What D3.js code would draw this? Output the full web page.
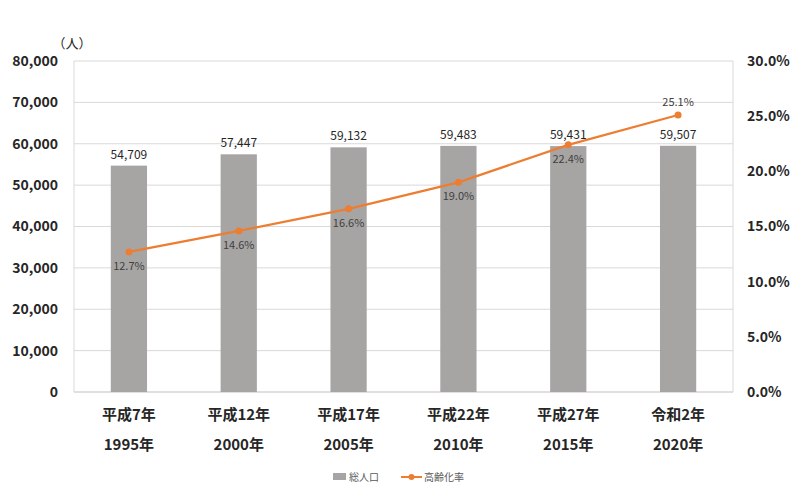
<!DOCTYPE html>
<html>
<head>
<meta charset="utf-8">
<script src="https://cdn.jsdelivr.net/npm/d3@7"></script>
<style>
  body { margin: 0; background: #fff; }
  text { font-family: "Noto Sans CJK JP", "Noto Sans", sans-serif; }
</style>
</head>
<body>
<script>
var eras = ["平成7年", "平成12年", "平成17年", "平成22年", "平成27年", "令和2年"]
var years = ["1995年", "2000年", "2005年", "2010年", "2015年", "2020年"]
var population = [54709, 57447, 59132, 59483, 59431, 59507]
var agingRate = [12.7, 14.6, 16.6, 19.0, 22.4, 25.1]
var leftTicks = [0, 10000, 20000, 30000, 40000, 50000, 60000, 70000, 80000]
var rightTicks = [0, 5, 10, 15, 20, 25, 30]

var W = 792, H = 482
var m = { left: 74, right: 59, top: 61, bottom: 90 }

var svg = d3.select("body").append("svg")
    .attr("width", W)
    .attr("height", H)

var x = d3.scaleBand()
    .domain(d3.range(eras.length))
    .range([m.left, W - m.right])
    .paddingInner(0.67)
    .paddingOuter(0.335)

var y = d3.scaleLinear().domain([0, 80000]).range([H - m.bottom, m.top])
var y2 = d3.scaleLinear().domain([0, 30]).range([H - m.bottom, m.top])

// grid
svg.append("g").selectAll("line")
    .data(leftTicks)
    .enter().append("line")
    .attr("x1", m.left).attr("x2", W - m.right)
    .attr("y1", function(d) { return y(d) }).attr("y2", function(d) { return y(d) })
    .style("stroke", function(d) { return d === 0 ? "#bfbfbf" : "#d9d9d9" })
    .style("stroke-width", 1)

// frame sides
svg.append("line").attr("x1", m.left).attr("x2", m.left)
    .attr("y1", m.top).attr("y2", H - m.bottom).style("stroke", "#d9d9d9")
svg.append("line").attr("x1", W - m.right).attr("x2", W - m.right)
    .attr("y1", m.top).attr("y2", H - m.bottom).style("stroke", "#d9d9d9")

// left axis
var fmt = d3.format(",")
svg.append("g").selectAll("text")
    .data(leftTicks)
    .enter().append("text")
    .attr("x", m.left - 16)
    .attr("y", function(d) { return y(d) })
    .attr("dy", "0.35em")
    .attr("text-anchor", "end")
    .style("font-size", "14px")
    .style("font-weight", "bold")
    .style("fill", "#262626")
    .text(function(d) { return fmt(d) })

svg.append("text")
    .attr("x", 72).attr("y", 48)
    .attr("text-anchor", "middle")
    .style("font-size", "13px")
    .style("fill", "#262626")
    .text("（人）")

// right axis
svg.append("g").selectAll("text")
    .data(rightTicks)
    .enter().append("text")
    .attr("x", W - m.right + 14)
    .attr("y", function(d) { return y2(d) })
    .attr("dy", "0.35em")
    .attr("text-anchor", "start")
    .style("font-size", "14px")
    .style("font-weight", "bold")
    .style("fill", "#262626")
    .text(function(d) { return d.toFixed(1) + "%" })

// bars
svg.append("g").selectAll("rect")
    .data(population)
    .enter().append("rect")
    .attr("x", function(d, i) { return x(i) })
    .attr("width", x.bandwidth())
    .attr("y", function(d) { return y(d) })
    .attr("height", function(d) { return y(0) - y(d) })
    .style("fill", "#a7a5a4")

svg.append("g").selectAll("text")
    .data(population)
    .enter().append("text")
    .attr("x", function(d, i) { return x(i) + x.bandwidth() / 2 })
    .attr("y", function(d) { return y(d) - 7 })
    .attr("text-anchor", "middle")
    .style("font-size", "12px")
    .style("fill", "#262626")
    .text(function(d) { return fmt(d) })

// line
var cx = function(i) { return x(i) + x.bandwidth() / 2 }
var line = d3.line()
    .x(function(d, i) { return cx(i) })
    .y(function(d) { return y2(d) })

svg.append("path")
    .attr("d", line(agingRate))
    .style("fill", "none")
    .style("stroke", "#ed7d31")
    .style("stroke-width", 2.2)

svg.append("g").selectAll("circle")
    .data(agingRate)
    .enter().append("circle")
    .attr("cx", function(d, i) { return cx(i) })
    .attr("cy", function(d) { return y2(d) })
    .attr("r", 3.5)
    .style("fill", "#ed7d31")

svg.append("g").selectAll("text")
    .data(agingRate)
    .enter().append("text")
    .attr("x", function(d, i) { return cx(i) })
    .attr("y", function(d, i) { return i === agingRate.length - 1 ? y2(d) - 9 : y2(d) + 18 })
    .attr("text-anchor", "middle")
    .style("font-size", "11px")
    .style("fill", "#404040")
    .text(function(d) { return d.toFixed(1) + "%" })

// x labels
var xl = svg.append("g").selectAll("g")
    .data(eras)
    .enter().append("g")
xl.append("text")
    .attr("x", function(d, i) { return cx(i) })
    .attr("y", 420)
    .attr("text-anchor", "middle")
    .style("font-size", "15px")
    .style("font-weight", "bold")
    .style("fill", "#262626")
    .text(function(d) { return d })
xl.append("text")
    .attr("x", function(d, i) { return cx(i) })
    .attr("y", 450)
    .attr("text-anchor", "middle")
    .style("font-size", "15px")
    .style("font-weight", "bold")
    .style("fill", "#262626")
    .text(function(d, i) { return years[i] })

// legend
var lg = svg.append("g").attr("transform", "translate(0, 477)")
lg.append("rect").attr("x", 333).attr("y", -4).attr("width", 13).attr("height", 7)
    .style("fill", "#a7a5a4")
lg.append("text").attr("x", 349).attr("y", 0).attr("dy", "0.35em")
    .style("font-size", "10px").style("fill", "#595959").text("総人口")
lg.append("line").attr("x1", 401).attr("x2", 422).attr("y1", 0).attr("y2", 0)
    .style("stroke", "#ed7d31").style("stroke-width", 2)
lg.append("circle").attr("cx", 411.5).attr("cy", 0).attr("r", 3).style("fill", "#ed7d31")
lg.append("text").attr("x", 424).attr("y", 0).attr("dy", "0.35em")
    .style("font-size", "10px").style("fill", "#595959").text("高齢化率")
</script>
</body>
</html>
